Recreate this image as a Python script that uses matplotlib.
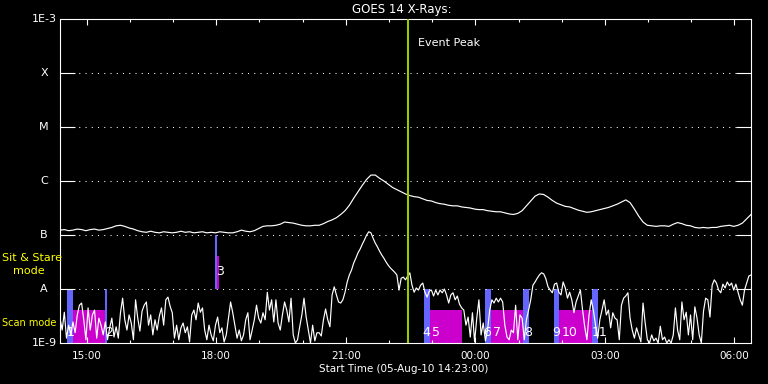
import numpy as np
import matplotlib
matplotlib.use("Agg")
import matplotlib.pyplot as plt
from matplotlib.ticker import FixedLocator, NullLocator, NullFormatter

# ---------------- data ----------------
# time axis: hours after start (05-Aug-10 14:23)
t_step_long = 0.1
t_step_short = 0.05
# GOES long channel (1-8 A), log10 flux
long_log = [
    -6.91, -6.90, -6.92, -6.91, -6.89, -6.90, -6.92, -6.90, -6.89, -6.91,
    -6.90, -6.88, -6.86, -6.83, -6.82, -6.84, -6.87, -6.89, -6.92, -6.94,
    -6.95, -6.93, -6.95, -6.96, -6.94, -6.95, -6.96, -6.95, -6.93, -6.95,
    -6.94, -6.96, -6.95, -6.94, -6.96, -6.95, -6.96, -6.94, -6.95, -6.96,
    -6.96, -6.94, -6.91, -6.93, -6.94, -6.92, -6.88, -6.84, -6.83, -6.83,
    -6.82, -6.80, -6.76, -6.77, -6.78, -6.80, -6.82, -6.83, -6.83, -6.82,
    -6.82, -6.79, -6.75, -6.72, -6.68, -6.62, -6.55, -6.45, -6.32, -6.20,
    -6.08, -5.97, -5.89, -5.89, -5.95, -6.00, -6.06, -6.12, -6.16, -6.20,
    -6.24, -6.27, -6.29, -6.30, -6.33, -6.36, -6.37, -6.40, -6.42, -6.43,
    -6.45, -6.46, -6.46, -6.48, -6.49, -6.50, -6.52, -6.53, -6.53, -6.55,
    -6.56, -6.57, -6.57, -6.59, -6.61, -6.62, -6.60, -6.55, -6.46, -6.37,
    -6.28, -6.24, -6.25, -6.30, -6.36, -6.41, -6.44, -6.47, -6.48, -6.51,
    -6.54, -6.56, -6.58, -6.57, -6.55, -6.53, -6.51, -6.49, -6.46, -6.43,
    -6.39, -6.35, -6.40, -6.52, -6.65, -6.76, -6.82, -6.83, -6.84, -6.83,
    -6.83, -6.84, -6.80, -6.77, -6.79, -6.82, -6.83, -6.86, -6.87, -6.86,
    -6.87, -6.86, -6.86, -6.84, -6.83, -6.82, -6.84, -6.82, -6.78, -6.70,
    -6.62,
]
# GOES short channel (0.5-4 A), log10 flux
short_log = [
    -8.54, -8.76, -8.43, -8.91, -8.67, -8.85, -8.61, -8.81, -8.48, -8.30,
    -8.26, -8.57, -8.94, -8.35, -8.76, -8.48, -8.39, -8.91, -8.54, -8.67,
    -8.85, -8.61, -8.94, -8.72, -8.54, -8.89, -8.70, -8.91, -8.44, -8.17,
    -8.57, -8.76, -8.48, -8.63, -8.94, -8.20, -8.54, -8.78, -8.41, -8.30,
    -8.24, -8.67, -8.48, -8.85, -8.57, -8.76, -8.50, -8.35, -8.67, -8.20,
    -8.15, -8.32, -8.44, -8.91, -8.67, -8.94, -8.72, -8.63, -8.81, -8.70,
    -8.98, -8.48, -8.39, -8.57, -8.26, -8.43, -8.35, -8.76, -8.94, -8.67,
    -8.85, -8.96, -8.67, -8.52, -8.81, -8.72, -8.98, -8.85, -8.54, -8.24,
    -8.44, -8.67, -8.91, -8.76, -8.96, -8.85, -8.57, -8.44, -8.94, -8.76,
    -8.57, -8.30, -8.54, -8.63, -8.44, -8.57, -8.06, -8.39, -8.20, -8.61,
    -8.20, -8.63, -8.76, -8.48, -8.24, -8.39, -8.61, -8.17, -8.85, -9.00,
    -8.94, -8.70, -8.48, -8.17, -8.52, -8.76, -9.00, -8.67, -8.96, -8.81,
    -8.81, -8.87, -8.57, -8.37, -8.57, -8.70, -8.11, -7.96, -8.11, -8.24,
    -8.26, -8.20, -8.06, -7.87, -7.74, -7.65, -7.52, -7.43, -7.33, -7.26,
    -7.17, -7.09, -7.00, -6.94, -6.96, -7.06, -7.15, -7.22, -7.30, -7.37,
    -7.43, -7.50, -7.56, -7.61, -7.65, -7.69, -7.74, -8.02, -7.80, -7.78,
    -7.83, -7.76, -7.70, -7.93, -8.06, -7.98, -8.02, -7.93, -7.89, -8.06,
    -8.15, -8.04, -8.02, -8.13, -8.02, -8.11, -8.02, -8.07, -8.00, -8.11,
    -8.26, -8.11, -8.07, -8.20, -8.13, -8.28, -8.35, -8.39, -8.67, -8.52,
    -8.89, -8.44, -8.98, -8.54, -8.20, -8.85, -8.63, -8.96, -8.76, -8.39,
    -8.20, -8.26, -8.17, -8.24, -8.17, -8.24, -8.67, -8.89, -8.94, -8.76,
    -8.81, -8.30, -8.94, -8.48, -8.54, -8.94, -8.57, -8.39, -8.20, -7.93,
    -7.87, -7.80, -7.74, -7.70, -7.72, -7.81, -7.96, -8.02, -8.07, -7.91,
    -7.89, -8.06, -8.11, -7.87, -7.98, -8.17, -8.06, -8.20, -8.44, -8.24,
    -8.13, -8.02, -8.39, -8.70, -8.94, -8.48, -8.20, -8.39, -8.67, -8.91,
    -8.57, -8.39, -8.20, -8.48, -8.39, -8.72, -8.44, -8.54, -8.57, -8.94,
    -8.30, -8.17, -8.13, -8.07, -8.54, -8.76, -8.91, -8.72, -8.85, -8.98,
    -8.26, -8.63, -8.94, -9.00, -8.85, -8.96, -8.91, -9.00, -8.69, -8.94,
    -8.89, -9.00, -8.94, -9.00, -8.85, -8.35, -8.76, -8.94, -8.24, -8.57,
    -8.43, -8.85, -8.48, -8.94, -8.33, -8.54, -8.85, -9.00, -8.41, -8.17,
    -8.20, -8.52, -7.93, -7.83, -7.89, -8.02, -8.07, -7.91, -7.98, -7.87,
    -7.94, -7.89, -8.02, -7.91, -8.06, -8.20, -8.30, -8.02, -7.89, -7.76,
    -7.74,
]

# observation intervals (hours after start)
scan_blue = [(0.16, 0.30), (1.04, 1.09), (8.43, 8.56), (9.84, 9.98),
             (10.72, 10.86), (11.44, 11.55), (12.32, 12.45)]
scan_magenta = [(0.28, 1.04), (8.54, 9.31), (9.95, 10.72), (11.55, 12.32)]
sit_blue = [(3.59, 3.635)]
sit_magenta = [(3.635, 3.68)]
magenta_frac = 0.61  # fraction of band filled by magenta bars

# event numbers: (label, hour, band)  band 0 = scan, 1 = sit & stare
event_labels = [("1", 0.16, 0), ("2", 1.04, 0), ("3", 3.61, 1),
                ("4", 8.40, 0), ("5", 8.62, 0), ("6", 9.80, 0), ("7", 10.02, 0),
                ("8", 10.74, 0), ("9", 11.40, 0), ("10", 11.62, 0), ("11", 12.32, 0)]

event_peak_hour = 8.06

hour_ticks_start = 37 / 60.0  # 15:00 in hours after 14:23
x_tick_labels = ["15:00", "18:00", "21:00", "00:00", "03:00", "06:00"]
y_levels = [1e-9, 1e-8, 1e-7, 1e-6, 1e-5, 1e-4, 1e-3]
y_labels = ["1E-9", "A", "B", "C", "M", "X", "1E-3"]

title = "GOES 14 X-Rays:"
xlabel = "Start Time (05-Aug-10 14:23:00)"

# ---------------- figure ----------------
W, H = 768, 384
fig = plt.figure(figsize=(W / 100, H / 100), dpi=100, facecolor="black")
L, R, T, B = 60, 751, 19, 343
ax = fig.add_axes([L / W, (H - B) / H, (R - L) / W, (B - T) / H])
ax.set_facecolor("black")
ax.set_yscale("log")
ax.set_ylim(1e-9, 1e-3)
ax.set_xlim(0, 16)

for s in ax.spines.values():
    s.set_color("white")
    s.set_linewidth(0.8)

# y ticks / grid
ax.yaxis.set_major_locator(FixedLocator(y_levels[1:-1]))
ax.yaxis.set_minor_locator(NullLocator())
ax.yaxis.set_major_formatter(NullFormatter())
ax.tick_params(axis="y", which="major", direction="in", length=10.8, width=0.8,
               color="white", left=True, right=True)
ax.grid(axis="y", color="white", linestyle=(0, (1, 5)), linewidth=0.75)

# x ticks
hours = [hour_ticks_start + k for k in range(16)]
majors = hours[::3]
minors = [h for i, h in enumerate(hours) if i % 3 != 0]
ax.xaxis.set_major_locator(FixedLocator(majors))
ax.xaxis.set_minor_locator(FixedLocator(minors))
ax.set_xticklabels(x_tick_labels, color="white", fontsize=7.5)
ax.tick_params(axis="x", which="major", direction="in", length=4.3, width=0.8,
               color="white", top=True, bottom=True, pad=6)
ax.tick_params(axis="x", which="minor", direction="in", length=2.2, width=0.8,
               color="white", top=True, bottom=True)

# bars
blue_c = "#6464ff"
mag_c = "#cc00cc"
scan_lo, scan_hi = 1e-9, 1e-8
ss_lo, ss_hi = 1e-8, 1e-7


def band_top(lo, hi, frac):
    return 10 ** (np.log10(lo) + frac * (np.log10(hi) - np.log10(lo)))


for a, b in scan_magenta:
    top = band_top(scan_lo, scan_hi, magenta_frac)
    ax.bar(a, top - scan_lo, width=b - a, bottom=scan_lo, align="edge",
           color=mag_c, linewidth=0, zorder=1)
for a, b in sit_magenta:
    top = band_top(ss_lo, ss_hi, magenta_frac)
    ax.bar(a, top - ss_lo, width=b - a, bottom=ss_lo, align="edge",
           color=mag_c, linewidth=0, zorder=1)
for a, b in scan_blue:
    ax.bar(a, scan_hi - scan_lo, width=b - a, bottom=scan_lo, align="edge",
           color=blue_c, linewidth=0, zorder=1.1)
for a, b in sit_blue:
    ax.bar(a, ss_hi - ss_lo, width=b - a, bottom=ss_lo, align="edge",
           color=blue_c, linewidth=0, zorder=1.1)

# curves
t_long = np.arange(len(long_log)) * t_step_long
t_short = np.arange(len(short_log)) * t_step_short
ax.plot(t_long, 10 ** np.array(long_log), color="white", lw=0.85, zorder=3)
ax.plot(t_short, 10 ** np.array(short_log), color="white", lw=0.85, zorder=3,
        clip_on=True)

# event numbers
for lab, hr, band in event_labels:
    yv = 10 ** -8.81 if band == 0 else 10 ** -7.67
    ax.text(hr, yv, lab, color="white", fontsize=9, ha="left", va="center",
            zorder=4)

# event peak
ax.axvline(event_peak_hour, color="#99cc00", lw=1.5, zorder=5)
ax.text(event_peak_hour + 0.23, 10 ** -3.44, "Event Peak", color="white",
        fontsize=8, ha="left", va="center", zorder=5)

# y labels (centered left of axis)
for yv, lab in zip(y_levels, y_labels):
    ax.text(-16 / (R - L), yv, lab, transform=ax.get_yaxis_transform(),
            color="white", fontsize=8, ha="center", va="center")

# yellow mode labels
fig.text(2 / W, 1 - 258 / H, "Sit & Stare", color="#ffff00", fontsize=8,
         ha="left", va="center")
fig.text(13 / W, 1 - 271 / H, "mode", color="#ffff00", fontsize=8,
         ha="left", va="center")
fig.text(2 / W, 1 - 323 / H, "Scan mode", color="#ffff00", fontsize=7,
         ha="left", va="center")

# title / xlabel
fig.text(402 / W, 1 - 9 / H, title, color="white", fontsize=8.5,
         ha="center", va="center")
fig.text(404 / W, 1 - 369 / H, xlabel, color="white", fontsize=7.5,
         ha="center", va="center")

fig.savefig("out.png", dpi=100, facecolor="black")
